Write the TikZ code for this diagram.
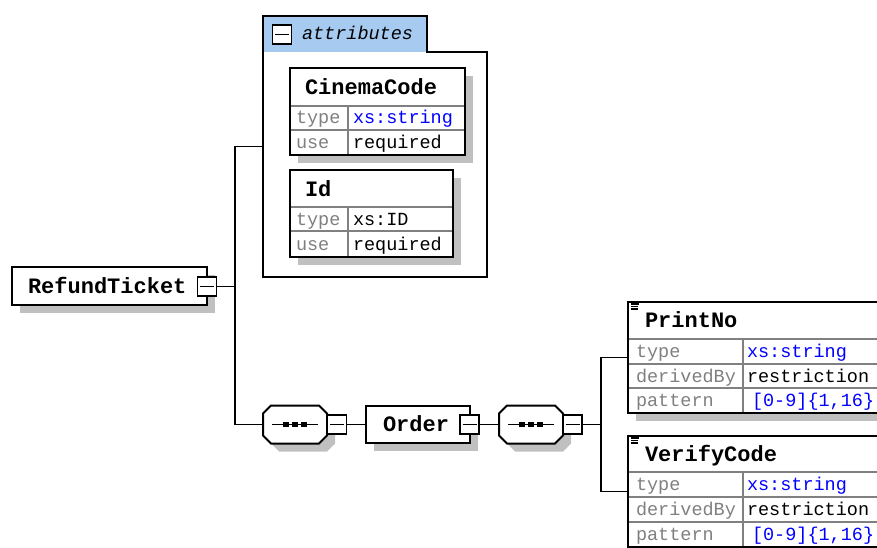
\documentclass[tikz,border=0pt]{standalone}
\usepackage{fontspec}
\newfontfamily\xmono{Liberation Mono}
\usetikzlibrary{shadows}
\definecolor{shgray}{RGB}{192,192,192}
\definecolor{lblgray}{RGB}{128,128,128}
\definecolor{linegray}{RGB}{128,128,128}
\definecolor{hdrblue}{RGB}{166,202,240}
\definecolor{valblue}{RGB}{0,0,255}
\newcommand\seqdraw[1]{%
  \fill[shgray] ([shift={(8,8)}]#1.center) ++(-24,-19) -- ++(48,0) -- ++(8,8) -- ++(0,22) -- ++(-8,8) -- ++(-48,0) -- ++(-8,-8) -- ++(0,-22) -- cycle;
  \draw[xframe] (#1.center) ++(-24,-19) -- ++(48,0) -- ++(8,8) -- ++(0,22) -- ++(-8,8) -- ++(-48,0) -- ++(-8,-8) -- ++(0,-22) -- cycle;
  \draw[line width=1.8pt] ([xshift=-23pt]#1.center) -- ([xshift=23pt]#1.center);
  \foreach \dx in {-9,0,9} {\fill ([xshift=\dx pt]#1.center) ++(-2.8,-2.8) rectangle ++(5.6,5.6);}
}
\begin{document}
\begin{tikzpicture}[x=1pt,y=-1pt,
  every node/.style={inner sep=0pt, outer sep=0pt},
  xframe/.style={draw=black, line width=2pt, fill=white},
  shadowed/.style={drop shadow={shadow xshift=8pt, shadow yshift=-8pt, fill=shgray, opacity=1}},
  conn/.style={draw=black, line width=1.9pt},
  tline/.style={draw=linegray, line width=1.3pt},
  minusbox/.style={xframe, line width=1.7pt, minimum size=19pt,
    path picture={\draw[line width=1.5pt] ([xshift=2.5pt]path picture bounding box.west) -- ([xshift=-2.5pt]path picture bounding box.east);}},
  ttl/.style={anchor=base west, font=\xmono\fontsize{22}{24}\selectfont\bfseries},
  lbl/.style={anchor=base west, text=lblgray, font=\xmono\fontsize{18.5}{20}\selectfont},
  val/.style={anchor=base west, text=black, font=\xmono\fontsize{18.5}{20}\selectfont},
  bval/.style={val, text=valblue},
  menuicon/.style={line width=1.3pt},
]
\useasboundingbox (0,0) rectangle (877,548);
\clip (0,0) rectangle (877,548);

% RefundTicket
\node[xframe, shadowed, minimum width=195pt, minimum height=38pt] (rt) at (109.5,286) {};
\node[ttl] (rt-t) at (28,293) {RefundTicket};
\node[minusbox] (rt-m) at (207,286.5) {};

% attributes group
\node[minimum width=224pt, minimum height=261pt] (attr) at (375,146.5) {};
\fill[hdrblue] (263,16) rectangle (427,52);
\draw[conn] (263,16) -- (427,16) -- (427,52) -- (487,52) -- (487,277) -- (263,277) -- cycle;
\node[minusbox] (attr-m) at (282,34.5) {};
\node[anchor=base west, font=\xmono\fontsize{18.5}{20}\selectfont\itshape] (attr-t) at (302,40) {attributes};

% CinemaCode
\node[xframe, shadowed, minimum width=175pt, minimum height=87pt] (cc) at (377.5,111.5) {};
\draw[tline] (291,106) -- (464,106) (291,130) -- (464,130) (348,106) -- (348,154);
\node[ttl] (cc-t) at (305,95) {CinemaCode};
\node[lbl] (cc-l1) at (296,124) {type};
\node[bval] (cc-v1) at (353,124) {xs:string};
\node[lbl] (cc-l2) at (296,148.5) {use};
\node[val] (cc-v2) at (353,148.5) {required};

% Id
\node[xframe, shadowed, minimum width=163pt, minimum height=87pt] (id) at (371.5,213.5) {};
\draw[tline] (291,207) -- (452,207) (291,231) -- (452,231) (348,207) -- (348,256);
\node[ttl] (id-t) at (305,196) {Id};
\node[lbl] (id-l1) at (296,225) {type};
\node[val] (id-v1) at (353,225) {xs:ID};
\node[lbl] (id-l2) at (296,250) {use};
\node[val] (id-v2) at (353,250) {required};

% sequence 1
\node[minimum width=64pt, minimum height=38pt] (s1) at (295,424.5) {};
\seqdraw{s1}
\node[minusbox] (s1-m) at (337,424.5) {};

% Order
\node[xframe, shadowed, minimum width=104pt, minimum height=37pt] (ord) at (418,424.5) {};
\node[ttl] (ord-t) at (383,431) {Order};
\node[minusbox] (ord-m) at (469.5,424.5) {};

% sequence 2
\node[minimum width=64pt, minimum height=38pt] (s2) at (531,424.5) {};
\seqdraw{s2}
\node[minusbox] (s2-m) at (572.5,424.5) {};

% PrintNo
\node[xframe, shadowed, minimum width=272pt, minimum height=111pt] (pn) at (764,357.5) {};
\draw[tline] (629,339) -- (899,339) (629,364) -- (899,364) (629,388) -- (899,388) (743,339) -- (743,412);
\draw[menuicon] (631,304) -- (639,304) (631,306.5) -- (638,306.5) (631,309) -- (638,309);
\node[ttl] (pn-t) at (645,327.5) {PrintNo};
\node[lbl] (pn-l1) at (636,357.5) {type};
\node[bval] (pn-v1) at (747,357.5) {xs:string};
\node[lbl] (pn-l2) at (636,382) {derivedBy};
\node[val] (pn-v2) at (747,382) {restriction};
\node[lbl] (pn-l3) at (636,406.5) {pattern};
\node[bval] (pn-v3) at (752,406.5) {[0-9]\{1,16\}};

% VerifyCode
\node[xframe, shadowed, minimum width=272pt, minimum height=111pt] (vc) at (764,491.5) {};
\draw[tline] (629,472) -- (899,472) (629,497) -- (899,497) (629,522) -- (899,522) (743,472) -- (743,546);
\draw[menuicon] (631,438) -- (639,438) (631,440.5) -- (638,440.5) (631,443) -- (638,443);
\node[ttl] (vc-t) at (645,461) {VerifyCode};
\node[lbl] (vc-l1) at (636,490.5) {type};
\node[bval] (vc-v1) at (747,490.5) {xs:string};
\node[lbl] (vc-l2) at (636,515.5) {derivedBy};
\node[val] (vc-v2) at (747,515.5) {restriction};
\node[lbl] (vc-l3) at (636,540.5) {pattern};
\node[bval] (vc-v3) at (752,540.5) {[0-9]\{1,16\}};

% connectors
\coordinate (j1) at (235,286.5);
\coordinate (j2) at (601,424.5);
\draw[conn] (rt-m.east) -- (j1);
\draw[conn] (j1) |- (attr.west);
\draw[conn] (j1) |- (s1.west);
\draw[conn] (s1-m.east) -- (ord.west);
\draw[conn] (ord-m.east) -- (s2.west);
\draw[conn] (s2-m.east) -- (j2);
\draw[conn] (j2) |- (pn.west);
\draw[conn] (j2) |- (vc.west);
\end{tikzpicture}
\end{document}
